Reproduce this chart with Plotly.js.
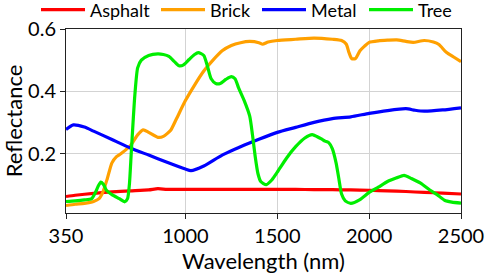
<!DOCTYPE html>
<html>
<head>
<meta charset="utf-8">
<script src="https://cdn.plot.ly/plotly-3.0.1.min.js"></script>
<style>html,body{margin:0;padding:0;background:#fff;}#chart{width:486px;height:274px;}</style>
</head>
<body>
<div id="chart"></div>
<script>
const seriesNames = ["Asphalt", "Brick", "Metal", "Tree"];
const seriesColors = ["#ff0000", "#ffa000", "#0000ff", "#00ee00"];

const asphaltWl = [350,400,500,600,700,800,850,900,1000,1100,1200,1300,1400,1500,1600,1700,1800,1900,2000,2100,2200,2300,2400,2500];
const asphaltR  = [0.062,0.066,0.072,0.077,0.080,0.083,0.087,0.085,0.085,0.085,0.085,0.085,0.085,0.085,0.085,0.084,0.084,0.083,0.082,0.080,0.078,0.075,0.073,0.070];

const brickWl = [350,400,450,500,530,550,575,600,625,650,700,740,770,800,850,880,920,950,1000,1050,1100,1150,1200,1250,1300,1350,1400,1420,1450,1500,1600,1700,1800,1850,1875,1890,1905,1925,1950,1975,2000,2050,2100,2150,2200,2240,2300,2350,2380,2420,2460,2500];
const brickR  = [0.033,0.037,0.040,0.046,0.055,0.075,0.120,0.170,0.190,0.200,0.225,0.260,0.276,0.268,0.252,0.255,0.275,0.310,0.370,0.420,0.465,0.500,0.530,0.547,0.556,0.560,0.556,0.551,0.558,0.563,0.567,0.571,0.567,0.563,0.552,0.525,0.505,0.505,0.530,0.545,0.557,0.562,0.564,0.565,0.560,0.557,0.563,0.558,0.550,0.525,0.510,0.495];

const metalWl = [350,390,450,500,600,700,800,900,1000,1030,1100,1200,1300,1400,1500,1600,1700,1800,1900,2000,2100,2200,2250,2300,2400,2500];
const metalR  = [0.277,0.292,0.285,0.272,0.245,0.218,0.195,0.172,0.150,0.145,0.160,0.195,0.222,0.246,0.268,0.284,0.300,0.312,0.318,0.329,0.338,0.344,0.339,0.336,0.340,0.347];

const treeWl = [350,400,450,490,510,525,540,555,570,600,640,670,685,695,705,715,725,740,760,800,850,880,910,940,965,990,1020,1050,1070,1100,1120,1140,1165,1190,1220,1250,1270,1290,1320,1350,1365,1380,1395,1410,1440,1470,1500,1550,1600,1650,1690,1720,1740,1760,1780,1800,1820,1835,1850,1870,1900,1950,2000,2050,2100,2150,2190,2230,2280,2330,2370,2410,2450,2500];
const treeR  = [0.046,0.048,0.051,0.055,0.075,0.095,0.108,0.100,0.082,0.068,0.055,0.045,0.055,0.100,0.200,0.300,0.390,0.475,0.500,0.515,0.520,0.518,0.512,0.495,0.482,0.485,0.502,0.518,0.524,0.515,0.480,0.440,0.425,0.425,0.438,0.447,0.440,0.410,0.370,0.320,0.260,0.190,0.135,0.110,0.100,0.115,0.140,0.185,0.222,0.250,0.261,0.253,0.247,0.240,0.235,0.215,0.170,0.120,0.070,0.048,0.040,0.052,0.075,0.092,0.110,0.122,0.130,0.120,0.105,0.083,0.068,0.050,0.044,0.041];

const xTicks = [350, 1000, 1500, 2000, 2500];
const yTicks = [0.2, 0.4, 0.6];
const yTickText = ["0.2", "0.4", "0.6"];

const xs = [asphaltWl, brickWl, metalWl, treeWl];
const ys = [asphaltR, brickR, metalR, treeR];

const FONT = "Lato, 'DejaVu Sans', sans-serif";
const legendIds = ["legend", "legend2", "legend3", "legend4"];
const legendTextLeft = [92, 212, 313, 420];

const traces = seriesNames.map((n, i) => ({
  type: "scatter", mode: "lines", name: n, x: xs[i], y: ys[i],
  legend: legendIds[i],
  line: {color: seriesColors[i], width: 3.2, shape: "spline", smoothing: 0.6}
}));

const layout = {
  width: 486, height: 274,
  margin: {l: 65.5, r: 25, t: 28.5, b: 61.3, autoexpand: false},
  paper_bgcolor: "#fff", plot_bgcolor: "#fff",
  font: {family: FONT, color: "#000", size: 19},
  showlegend: true,
  xaxis: {range: [350, 2500], tickvals: xTicks, ticktext: xTicks.map(String),
          showgrid: true, gridcolor: "#d3d3d3", gridwidth: 1,
          showline: true, linecolor: "#222", linewidth: 1, mirror: true,
          ticks: "outside", ticklen: 5, tickcolor: "#222",
          tickfont: {family: FONT, size: 20}, zeroline: false,
          title: {text: "Wavelength (nm)", font: {family: FONT, size: 22}, standoff: 3}},
  yaxis: {range: [0.009, 0.6], tickvals: yTicks, ticktext: yTickText,
          showgrid: true, gridcolor: "#d3d3d3", gridwidth: 1,
          showline: true, linecolor: "#222", linewidth: 1, mirror: true,
          ticks: "outside", ticklen: 5, tickcolor: "#222",
          tickfont: {family: FONT, size: 20}, zeroline: false,
          title: {text: "Reflectance", font: {family: FONT, size: 22}, standoff: 4}}
};
legendIds.forEach((id, i) => {
  layout[id] = {orientation: "h", xref: "container", yref: "container",
                x: (legendTextLeft[i] - 56) / 486, xanchor: "left", y: 1 - 10 / 274, yanchor: "middle",
                itemwidth: 44,
                font: {family: FONT, size: 18, color: "#000"},
                bgcolor: "rgba(0,0,0,0)", borderwidth: 0};
});

Plotly.newPlot("chart", traces, layout, {staticPlot: true, displayModeBar: false});
</script>
</body>
</html>
